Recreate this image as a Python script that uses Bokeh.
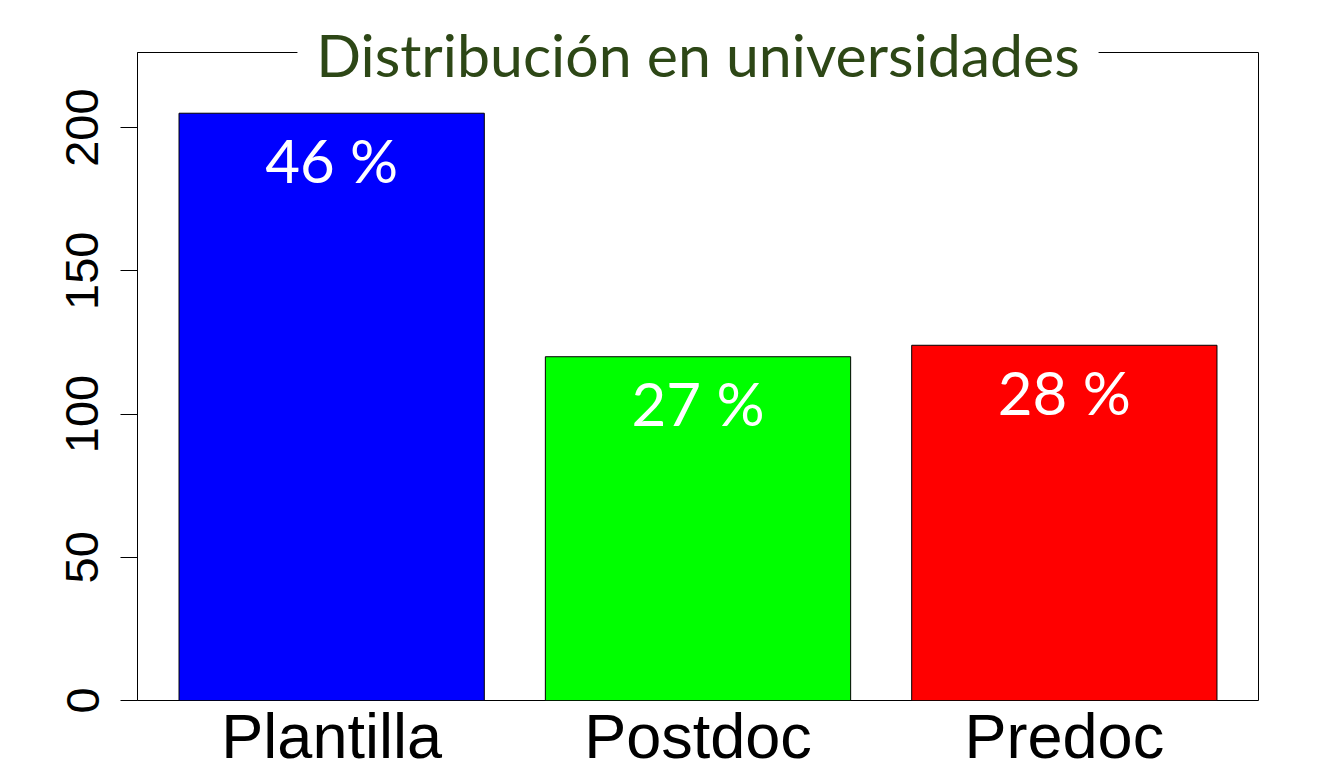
from bokeh.plotting import figure
from bokeh.models import FixedTicker, Range1d
from bokeh.core.properties import value
from bokeh.embed import file_html
from bokeh.resources import INLINE

# ---- data ----
categories = ["Plantilla", "Postdoc", "Predoc"]
counts = [205, 120, 124]
bar_colors = ["#0000FF", "#00FF00", "#FF0000"]
y_ticks = [0, 50, 100, 150, 200]
title_text = "Distribución en universidades"

total = sum(counts)
pct_labels = [f"{round(100 * c / total)} %" for c in counts]

# R barplot style positions: width 1, space 0.2
bar_w = 1.0
space = 0.2
centers = [space + bar_w / 2 + i * (bar_w + space) for i in range(len(categories))]
x_lo = space
x_hi = centers[-1] + bar_w / 2
pad = 0.04 * (x_hi - x_lo)
y_top = 226.2

nb = "\u00a0\u200a"
p = figure(width=1314, height=774, output_backend="svg", toolbar_location=None,
           x_range=Range1d(x_lo - pad, x_hi + pad), y_range=Range1d(0, y_top),
           min_border_left=137, min_border_right=56, min_border_top=52, min_border_bottom=74,
           title=nb + title_text + nb)

p.background_fill_color = "white"
p.border_fill_color = "white"
p.outline_line_color = "black"
p.outline_line_width = 1
p.grid.visible = False

# title overlapping the top border, on a white background
p.title.align = "center"
p.title.vertical_align = "bottom"
p.title.standoff = -74
p.title.text_font = "Lato"
p.title.text_font_style = "normal"
p.title.text_font_size = "59px"
p.title.text_color = "#2d4716"
p.title.background_fill_color = "white"

p.vbar(x=centers, top=counts, bottom=0, width=bar_w, fill_color=bar_colors,
       line_color="black", line_width=1)

# percentage labels inside bars
p.text(x=centers, y=[c - 16.3 for c in counts], text=pct_labels,
       text_color="white", text_font=value("Lato"), text_font_size="60px",
       text_align="center", text_baseline="alphabetic")

# y axis
p.yaxis.ticker = FixedTicker(ticks=y_ticks)
p.yaxis.major_tick_out = 17
p.yaxis.major_tick_in = 0
p.yaxis.minor_tick_line_color = None
p.yaxis.major_tick_line_color = "black"
p.yaxis.axis_line_color = "black"
p.yaxis.major_label_orientation = "vertical"
p.yaxis.major_label_text_font = "Liberation Sans"
p.yaxis.major_label_text_font_size = "47px"
p.yaxis.major_label_text_color = "black"
p.yaxis.major_label_standoff = 22

# x axis (category names)
p.xaxis.ticker = FixedTicker(ticks=centers)
p.xaxis.major_label_overrides = {c: name for c, name in zip(centers, categories)}
p.xaxis.major_tick_line_color = None
p.xaxis.minor_tick_line_color = None
p.xaxis.axis_line_color = None
p.xaxis.major_tick_out = 0
p.xaxis.major_tick_in = 0
p.xaxis.major_label_standoff = 0
p.xaxis.major_label_text_font = "Liberation Sans"
p.xaxis.major_label_text_font_size = "63px"
p.xaxis.major_label_text_color = "black"

open("out.html", "w").write(file_html(p, INLINE))
